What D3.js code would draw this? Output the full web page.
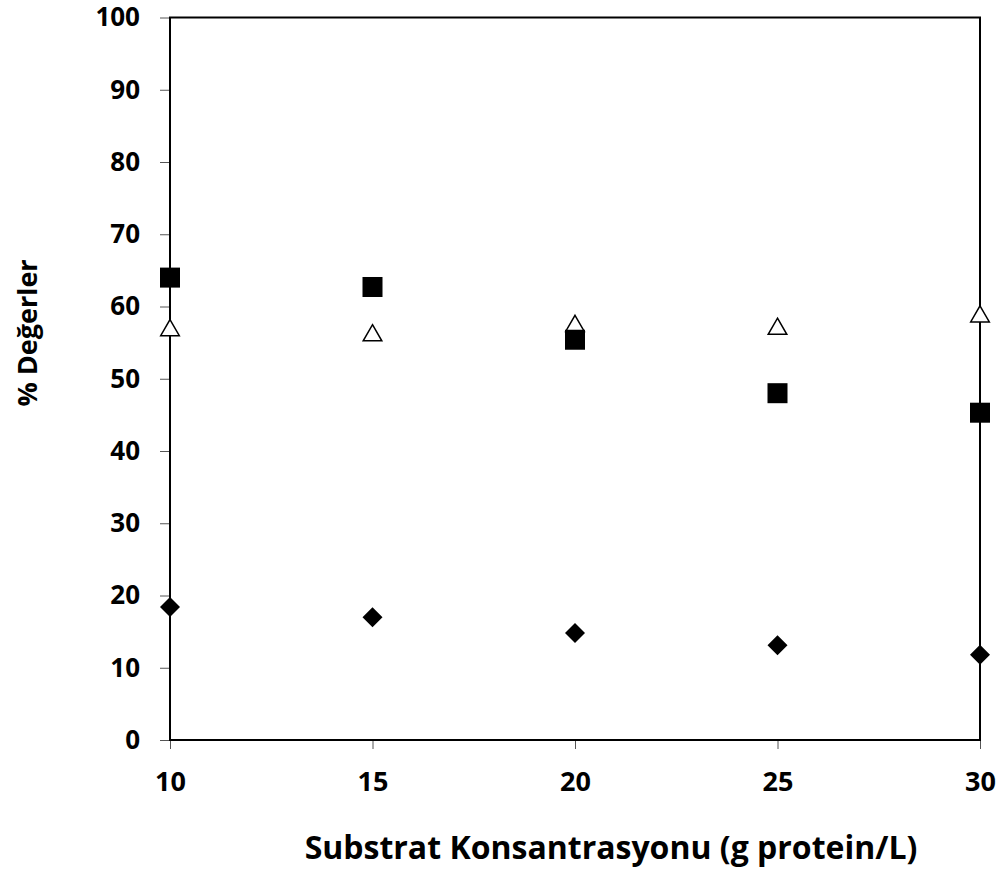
<!DOCTYPE html>
<html>
<head>
<meta charset="utf-8">
<script src="https://cdn.jsdelivr.net/npm/d3@7"></script>
<style>
body { margin: 0; background: #fff; }
text { font-family: "Open Sans", Lato, sans-serif; font-weight: bold; }
</style>
</head>
<body>
<script>
var xValues = [10, 15, 20, 25, 30];
var squareValues = [64.0, 62.7, 55.4, 48.0, 45.3];
var triangleValues = [56.7, 56.0, 57.3, 56.9, 58.6];
var diamondValues = [18.4, 17.0, 14.8, 13.1, 11.8];
var xTicks = [10, 15, 20, 25, 30];
var yTicks = [0, 10, 20, 30, 40, 50, 60, 70, 80, 90, 100];

var width = 1003, height = 874;
var plotLeft = 170, plotRight = 980, plotTop = 17.5, plotBottom = 740;

var svg = d3.select("body").append("svg")
    .attr("width", width)
    .attr("height", height);

var xScale = d3.scaleLinear().domain([10, 30]).range([plotLeft, plotRight]);
var yScale = d3.scaleLinear().domain([0, 100]).range([plotBottom, plotTop]);

// y ticks + labels
svg.append("g")
    .attr("transform", "translate(" + plotLeft + ",0)")
    .call(d3.axisLeft(yScale).tickValues(yTicks).tickSize(10).tickPadding(20))
    .call(function(g) {
        g.select(".domain").remove();
        g.selectAll("line").attr("stroke", "#555").attr("stroke-width", 1);
        g.selectAll("text").attr("font-size", 26).attr("fill", "#000")
            .style("font-family", "'Open Sans', Lato, sans-serif").style("font-weight", "bold");
    });

// x ticks + labels
svg.append("g")
    .attr("transform", "translate(0," + plotBottom + ")")
    .call(d3.axisBottom(xScale).tickValues(xTicks).tickSize(9))
    .call(function(g) {
        g.select(".domain").remove();
        g.selectAll("line").attr("stroke", "#555").attr("stroke-width", 1);
        g.selectAll("text").attr("font-size", 27).attr("fill", "#000")
            .attr("y", 51).attr("dy", 0)
            .style("font-family", "'Open Sans', Lato, sans-serif").style("font-weight", "bold");
    });

// plot frame
svg.append("rect")
    .attr("x", plotLeft).attr("y", plotTop)
    .attr("width", plotRight - plotLeft).attr("height", plotBottom - plotTop)
    .attr("fill", "none").attr("stroke", "#000").attr("stroke-width", 2);

var markers = svg.append("g");

markers.selectAll(".tri")
    .data(triangleValues)
    .enter().append("path")
    .attr("class", "tri")
    .attr("d", d3.symbol().type(d3.symbolTriangle).size(150))
    .attr("transform", function(d, i) { return "translate(" + xScale(xValues[i]) + "," + yScale(d) + ")"; })
    .attr("fill", "#fff").attr("stroke", "#000").attr("stroke-width", 1.5);

markers.selectAll(".sq")
    .data(squareValues)
    .enter().append("rect")
    .attr("class", "sq")
    .attr("x", function(d, i) { return xScale(xValues[i]) - 10; })
    .attr("y", function(d) { return yScale(d) - 10; })
    .attr("width", 20).attr("height", 20)
    .attr("fill", "#000");

markers.selectAll(".dia")
    .data(diamondValues)
    .enter().append("path")
    .attr("class", "dia")
    .attr("d", "M0,-10L10,0L0,10L-10,0Z")
    .attr("transform", function(d, i) { return "translate(" + xScale(xValues[i]) + "," + yScale(d) + ")"; })
    .attr("fill", "#000");

// axis titles
svg.append("text")
    .attr("x", 611).attr("y", 859)
    .attr("text-anchor", "middle")
    .attr("font-size", 32)
    .text("Substrat Konsantrasyonu (g protein/L)");

svg.append("text")
    .attr("transform", "translate(37,333) rotate(-90)")
    .attr("text-anchor", "middle")
    .attr("font-size", 27)
    .text("% Değerler");
</script>
</body>
</html>
